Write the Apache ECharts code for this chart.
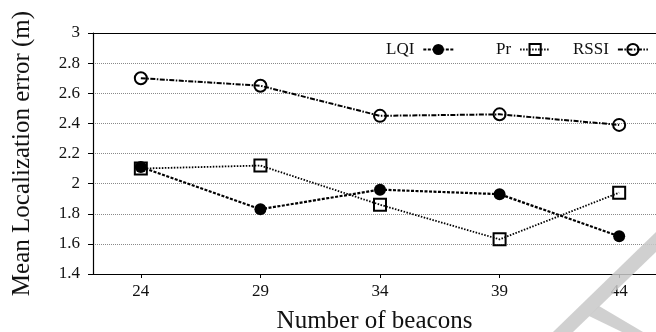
<!DOCTYPE html>
<html>
<head>
<meta charset="utf-8">
<script src="https://cdn.jsdelivr.net/npm/echarts@6/dist/echarts.min.js"></script>
<style>html,body{margin:0;padding:0;background:#fff}#c{width:656px;height:332px}</style>
</head>
<body>
<div id="c"></div>
<script>
const beacons = [24, 29, 34, 39, 44];
const lqi  = [2.11, 1.83, 1.96, 1.93, 1.65];
const pr   = [2.10, 2.12, 1.86, 1.63, 1.94];
const rssi = [2.70, 2.65, 2.45, 2.46, 2.39];
const yTicks = [1.4, 1.6, 1.8, 2, 2.2, 2.4, 2.6, 2.8, 3];

const FONT = '"Liberation Serif", "DejaVu Serif", serif';
const pair = (xs, ys) => xs.map((x, i) => [x, ys[i]]);

const chart = echarts.init(document.getElementById('c'), null, {renderer: 'canvas'});
const legendBase = {
  orient: 'horizontal', align: 'right', top: 36, itemWidth: 30, itemHeight: 14,
  textStyle: {fontFamily: FONT, fontSize: 17, color: '#111', padding: [0, 4, 0, 0]},
  inactiveColor: '#111'
};
chart.setOption({
  animation: false,
  backgroundColor: '#fff',
  grid: {left: 93, right: 0, top: 33, bottom: 58, containLabel: false, outerBoundsMode: 'none'},
  legend: [
    Object.assign({}, legendBase, {left: 381, data: ['LQI']}),
    Object.assign({}, legendBase, {left: 491, data: ['Pr']}),
    Object.assign({}, legendBase, {left: 568, data: ['RSSI']})
  ],
  xAxis: [{
    type: 'value', min: 22, max: 45.54, position: 'bottom',
    name: 'Number of beacons', nameLocation: 'middle', nameGap: 35,
    nameTextStyle: {fontFamily: FONT, fontSize: 25, color: '#111'},
    axisLine: {show: true, lineStyle: {color: '#000', width: 1.2}},
    axisTick: {show: true, length: 4, customValues: beacons, lineStyle: {color: '#000'}},
    axisLabel: {customValues: beacons, margin: 9, fontFamily: FONT, fontSize: 17, color: '#111'},
    splitLine: {show: false}
  }, {
    type: 'value', min: 22, max: 45.54, position: 'top',
    axisLine: {show: true, onZero: false, lineStyle: {color: '#000', width: 1.2}},
    axisTick: {show: false}, axisLabel: {show: false}, splitLine: {show: false}
  }],
  yAxis: {
    type: 'value', min: 1.4, max: 3, interval: 0.2,
    name: 'Mean Localization error (m)', nameLocation: 'middle', nameGap: 58, nameRotate: 90,
    nameTextStyle: {fontFamily: FONT, fontSize: 25, color: '#111'},
    axisLine: {show: true, lineStyle: {color: '#000', width: 1.2}},
    axisTick: {show: true, length: 5, lineStyle: {color: '#000'}},
    axisLabel: {margin: 13, fontFamily: FONT, fontSize: 17, color: '#111',
      formatter: v => String(Math.round(v * 10) / 10)},
    splitLine: {show: true, lineStyle: {color: '#8a8a8a', width: 1, type: [1, 1]}}
  },
  series: [{
    name: 'LQI', type: 'line', data: pair(beacons, lqi),
    symbol: 'circle', symbolSize: 12,
    itemStyle: {color: '#000'},
    lineStyle: {color: '#000', width: 2.2, type: [3, 1.5]}, z: 3
  }, {
    name: 'Pr', type: 'line', data: pair(beacons, pr),
    symbol: 'rect', symbolSize: 12,
    itemStyle: {color: 'rgba(255,255,255,0)', borderColor: '#000', borderWidth: 2},
    lineStyle: {color: '#000', width: 1.8, type: [1.5, 1.5]}, z: 2
  }, {
    name: 'RSSI', type: 'line', data: pair(beacons, rssi),
    symbol: 'circle', symbolSize: 12,
    itemStyle: {color: 'rgba(255,255,255,0)', borderColor: '#000', borderWidth: 2},
    lineStyle: {color: '#000', width: 2, type: [5, 1.5, 1.5, 1.5]}, z: 2
  }],
  graphic: [{
    type: 'polygon', silent: true, z: 100,
    shape: {points: [[656, 232], [656, 252], [573, 332], [553, 332]]},
    style: {fill: 'rgba(200,200,200,0.85)'}
  }, {
    type: 'polygon', silent: true, z: 100,
    shape: {points: [[589, 316], [599, 306], [643, 332], [622, 332]]},
    style: {fill: 'rgba(200,200,200,0.85)'}
  }]
});
</script>
</body>
</html>
